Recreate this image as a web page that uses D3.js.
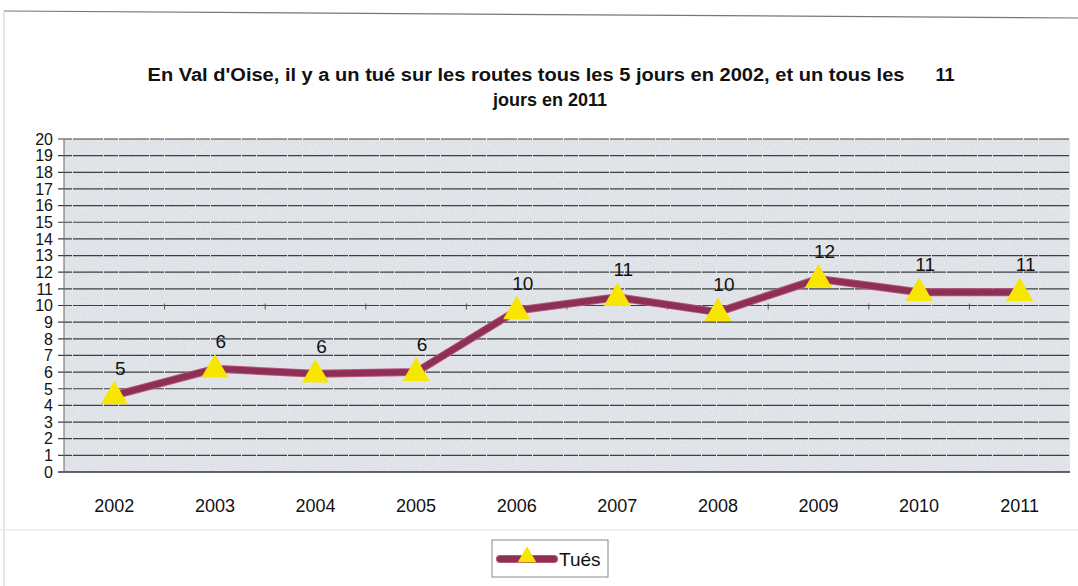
<!DOCTYPE html>
<html>
<head>
<meta charset="utf-8">
<script src="https://cdn.jsdelivr.net/npm/d3@7"></script>
<style>
  html, body { margin: 0; padding: 0; background: #fff; }
  svg { display: block; font-family: "Liberation Sans", Arial, sans-serif; }
</style>
</head>
<body>
<svg id="chart" width="1078" height="586"></svg>
<script>
// ── Data ──────────────────────────────────────────────────────────────────────

const years  = ['2002', '2003', '2004', '2005', '2006', '2007', '2008', '2009', '2010', '2011'];
const tues   = [4.6, 6.2, 5.9, 6.0, 9.7, 10.5, 9.6, 11.6, 10.8, 10.8];
const labels = ['5', '6', '6', '6', '10', '11', '10', '12', '11', '11'];
const yTicks = d3.range(0, 21);
const titleLine1 = "En Val d'Oise, il y a un tué sur les routes tous les 5 jours en 2002, et un tous les";
const titleExtra = '11';
const titleLine2 = 'jours en 2011';
const seriesName = 'Tués';

// ── Layout ────────────────────────────────────────────────────────────────────

const W = 1078, H = 586;
const plot = { left: 64, right: 1070, top: 139, bottom: 472 };

const LINE_COLOR   = '#8e2f55';
const LINE_EDGE    = '#b5577c';
const MARKER_COLOR = '#f7e600';

const svg = d3.select('#chart');

const x = d3.scaleBand().domain(years).range([plot.left, plot.right]);
const y = d3.scaleLinear().domain([0, 20]).range([plot.bottom, plot.top]);

// ── Frame (scanned page edges) ───────────────────────────────────────────────

svg.append('line')
  .attr('x1', 4).attr('x2', W).attr('y1', 11).attr('y2', 18)
  .attr('stroke', '#777').attr('stroke-width', 1.2);
svg.append('line')
  .attr('x1', 4).attr('x2', 4).attr('y1', 11).attr('y2', H)
  .attr('stroke', '#ccc').attr('stroke-width', 1);
svg.append('line')
  .attr('x1', 0).attr('x2', W).attr('y1', 530).attr('y2', 530)
  .attr('stroke', '#e2e2e2').attr('stroke-width', 1);

// ── Plot background with speckle texture ─────────────────────────────────────

const defs = svg.append('defs');
const filt = defs.append('filter').attr('id', 'speckle')
  .attr('x', 0).attr('y', 0).attr('width', '100%').attr('height', '100%');
filt.append('feTurbulence')
  .attr('type', 'fractalNoise').attr('baseFrequency', 0.9)
  .attr('numOctaves', 2).attr('seed', 3).attr('result', 'noise');
filt.append('feColorMatrix')
  .attr('in', 'noise').attr('type', 'matrix')
  .attr('values', '0 0 0 0 0.55  0 0 0 0 0.57  0 0 0 0 0.62  0 0 0 -2.4 1.3');
filt.append('feComposite').attr('in2', 'SourceGraphic').attr('operator', 'in');

svg.append('rect')
  .attr('x', plot.left).attr('y', plot.top)
  .attr('width', plot.right - plot.left).attr('height', plot.bottom - plot.top)
  .attr('fill', '#e2e5ea');
svg.append('rect')
  .attr('x', plot.left).attr('y', plot.top)
  .attr('width', plot.right - plot.left).attr('height', plot.bottom - plot.top)
  .attr('fill', '#000')
  .attr('filter', 'url(#speckle)')
  .attr('opacity', 0.4);

// ── Gridlines + y axis ───────────────────────────────────────────────────────

svg.append('g')
  .selectAll('line')
  .data(yTicks)
  .join('line')
  .attr('x1', plot.left - 6).attr('x2', plot.right)
  .attr('y1', d => y(d)).attr('y2', d => y(d))
  .attr('stroke', d => d === 0 ? '#333' : '#3f3f3f')
  .attr('stroke-width', d => d === 0 ? 1.5 : 1.2)
  .attr('stroke-dasharray', d => d === 0 ? null : '14 1 30 1');

svg.append('line')
  .attr('x1', plot.left).attr('x2', plot.left)
  .attr('y1', plot.top).attr('y2', plot.bottom)
  .attr('stroke', '#666').attr('stroke-width', 1);

// small category ticks visible on the 10 gridline
svg.append('g')
  .selectAll('line')
  .data(years.slice(1))
  .join('line')
  .attr('x1', d => x(d)).attr('x2', d => x(d))
  .attr('y1', y(10) - 2).attr('y2', y(10) + 4)
  .attr('stroke', '#555').attr('stroke-width', 1);

svg.append('g')
  .selectAll('text')
  .data(yTicks)
  .join('text')
  .attr('x', 53)
  .attr('y', d => y(d))
  .attr('dy', '0.36em')
  .attr('text-anchor', 'end')
  .attr('font-size', 16)
  .attr('fill', '#111')
  .text(d => d);

// ── X axis labels ────────────────────────────────────────────────────────────

svg.append('g')
  .selectAll('text')
  .data(years)
  .join('text')
  .attr('x', d => x(d) + x.bandwidth() / 2)
  .attr('y', 506)
  .attr('dy', '0.36em')
  .attr('text-anchor', 'middle')
  .attr('font-size', 18)
  .attr('fill', '#111')
  .text(d => d);

// ── Series ───────────────────────────────────────────────────────────────────

const pts = years.map((yr, i) => ({ yr, v: tues[i], label: labels[i] }));
const cx = d => x(d.yr) + x.bandwidth() / 2;

const lineGen = d3.line().x(cx).y(d => y(d.v));

svg.append('path')
  .datum(pts)
  .attr('d', lineGen)
  .attr('fill', 'none')
  .attr('stroke', LINE_EDGE)
  .attr('stroke-width', 8)
  .attr('stroke-linejoin', 'round');
svg.append('path')
  .datum(pts)
  .attr('d', lineGen)
  .attr('fill', 'none')
  .attr('stroke', LINE_COLOR)
  .attr('stroke-width', 6)
  .attr('stroke-linejoin', 'round');

const tri = d3.symbol().type(d3.symbolTriangle).size(320);

svg.append('g')
  .selectAll('path')
  .data(pts)
  .join('path')
  .attr('d', tri)
  .attr('transform', d => `translate(${cx(d)},${y(d.v) + 1})`)
  .attr('fill', MARKER_COLOR);

// value labels sit just above each triangle
svg.append('g')
  .selectAll('text')
  .data(pts)
  .join('text')
  .attr('x', d => cx(d) + 6)
  .attr('y', d => y(d.v) - 17)
  .attr('dy', '-0.2em')
  .attr('text-anchor', 'middle')
  .attr('font-size', 19)
  .attr('fill', '#111')
  .text(d => d.label);

// ── Title ────────────────────────────────────────────────────────────────────

svg.append('text')
  .attr('x', 526).attr('y', 81)
  .attr('text-anchor', 'middle')
  .attr('font-size', 18).attr('font-weight', 'bold')
  .attr('textLength', 757).attr('lengthAdjust', 'spacingAndGlyphs')
  .attr('fill', '#111')
  .text(titleLine1);
svg.append('text')
  .attr('x', 945).attr('y', 81)
  .attr('text-anchor', 'middle')
  .attr('font-size', 18).attr('font-weight', 'bold')
  .attr('fill', '#111')
  .text(titleExtra);
svg.append('text')
  .attr('x', 550).attr('y', 106)
  .attr('text-anchor', 'middle')
  .attr('font-size', 18).attr('font-weight', 'bold')
  .attr('fill', '#111')
  .text(titleLine2);

// ── Legend ───────────────────────────────────────────────────────────────────

const lg = svg.append('g').attr('transform', 'translate(492,540)');
lg.append('rect')
  .attr('width', 116).attr('height', 37)
  .attr('fill', '#fff').attr('stroke', '#888').attr('stroke-width', 1);
lg.append('line')
  .attr('x1', 8).attr('x2', 62).attr('y1', 19).attr('y2', 19)
  .attr('stroke', LINE_EDGE).attr('stroke-width', 8).attr('stroke-linecap', 'round');
lg.append('line')
  .attr('x1', 8).attr('x2', 62).attr('y1', 19).attr('y2', 19)
  .attr('stroke', LINE_COLOR).attr('stroke-width', 6).attr('stroke-linecap', 'round');
lg.append('path')
  .attr('d', d3.symbol().type(d3.symbolTriangle).size(150))
  .attr('transform', 'translate(35,17)')
  .attr('fill', MARKER_COLOR);
lg.append('text')
  .attr('x', 67).attr('y', 19).attr('dy', '0.36em')
  .attr('font-size', 19).attr('fill', '#111')
  .text(seriesName);
</script>
</body>
</html>
